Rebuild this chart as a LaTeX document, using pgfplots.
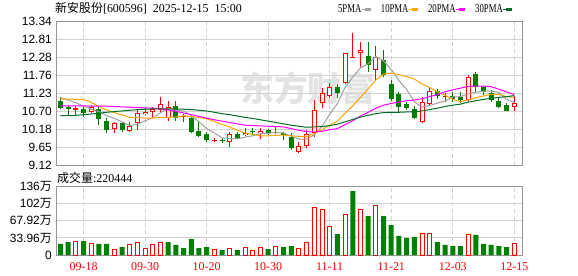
\documentclass[border=0pt]{standalone}
\usepackage{fontspec}
\setmainfont{Liberation Sans}
\newfontfamily\cjk{Noto Sans CJK SC}
\newfontfamily\serifn{Liberation Serif}
\newfontfamily\legfont[FakeStretch=0.73]{Liberation Serif}
\usepackage{pgfplots}
\usepackage{pgfplotstable}
\pgfplotsset{compat=1.18}
\definecolor{cred}{RGB}{255,0,0}
\definecolor{cgreen}{RGB}{0,128,0}
\definecolor{ma5c}{RGB}{160,160,160}
\definecolor{ma10c}{RGB}{255,165,0}
\definecolor{ma20c}{RGB}{255,0,255}
\definecolor{ma30c}{RGB}{0,110,40}
\definecolor{gridc}{RGB}{210,210,210}
\definecolor{framec}{RGB}{150,150,150}

\pgfplotstableread{
i o h l c
0 11.00 11.11 10.77 10.79
1 10.83 10.86 10.59 10.76
3 10.76 10.85 10.52 10.66
5 10.76 10.82 10.30 10.47
6 10.41 10.49 10.07 10.15
8 10.35 10.37 10.10 10.15
15 10.85 11.00 10.42 10.49
17 10.49 10.54 10.05 10.10
18 10.13 10.37 9.95 9.98
19 10.02 10.10 9.79 9.85
21 9.86 9.92 9.76 9.83
23 10.02 10.10 9.88 9.92
25 10.10 10.20 10.00 10.08
27 10.15 10.17 10.00 10.05
29 10.05 10.10 9.85 10.00
30 9.95 10.05 9.56 9.61
36 11.40 11.51 11.08 11.25
40 12.32 12.75 11.86 12.06
42 12.21 12.50 11.70 11.77
43 11.50 11.62 11.01 11.05
44 11.21 11.28 10.69 10.82
45 10.91 10.98 10.74 10.79
46 10.78 10.85 10.46 10.49
49 11.31 11.35 11.05 11.15
51 11.15 11.26 10.98 11.05
52 11.11 11.28 10.93 11.03
54 11.80 11.86 11.28 11.40
55 11.42 11.44 11.18 11.28
56 11.23 11.34 10.97 11.03
57 11.00 11.13 10.79 10.82
58 10.88 10.95 10.71 10.72
}\greenK

\pgfplotstableread{
i o h l c
4 10.69 10.88 10.64 10.82
7 10.17 10.39 10.07 10.35
9 10.13 10.39 10.10 10.28
10 10.35 10.74 10.15 10.66
11 10.61 10.79 10.59 10.68
12 10.67 10.82 10.49 10.77
13 10.74 11.12 10.69 10.90
14 10.49 11.00 10.42 10.83
22 9.79 10.10 9.66 10.02
24 10.00 10.22 9.97 10.07
26 10.05 10.20 9.88 10.12
31 9.51 9.80 9.46 9.68
32 9.68 10.15 9.61 10.02
33 10.05 11.03 9.95 10.74
34 10.93 11.37 10.79 11.23
35 11.15 11.52 11.10 11.40
37 11.52 12.42 11.50 12.40
39 12.40 12.75 12.01 12.50
41 11.91 12.62 11.62 12.29
47 10.39 11.11 10.36 10.96
48 10.91 11.40 10.86 11.29
53 11.03 11.77 10.98 11.70
59 10.82 11.15 10.71 10.93
}\redK

\pgfplotstableread{
i o h l c
2 10.75 10.85 10.59 10.76
16 10.52 10.61 10.37 10.54
20 9.83 9.90 9.79 9.84
28 10.05 10.25 10.02 10.07
38 12.27 12.99 12.27 12.28
50 11.12 11.25 10.98 11.13
}\dojiK

\pgfplotstableread{
i ma5 ma10 ma20 ma30
0 11.10 11.06 10.86 10.57
1 11.03 11.06 10.86 10.57
2 10.95 11.05 10.86 10.58
3 10.85 11.05 10.86 10.60
4 10.76 10.96 10.85 10.62
5 10.69 10.84 10.85 10.64
6 10.57 10.74 10.85 10.67
7 10.49 10.66 10.84 10.69
8 10.39 10.59 10.83 10.71
9 10.28 10.52 10.82 10.73
10 10.32 10.51 10.81 10.75
11 10.42 10.50 10.80 10.76
12 10.51 10.50 10.79 10.77
13 10.66 10.52 10.77 10.77
14 10.77 10.52 10.74 10.77
15 10.73 10.53 10.70 10.77
16 10.71 10.57 10.65 10.76
17 10.57 10.54 10.60 10.75
18 10.39 10.52 10.55 10.73
19 10.19 10.48 10.50 10.71
20 10.06 10.40 10.45 10.67
21 9.92 10.31 10.41 10.63
22 9.90 10.24 10.37 10.60
23 9.89 10.14 10.33 10.56
24 9.94 10.06 10.29 10.52
25 9.98 10.02 10.28 10.49
26 10.04 9.98 10.27 10.45
27 10.05 9.98 10.26 10.41
28 10.08 9.99 10.25 10.37
29 10.06 10.00 10.24 10.33
30 9.97 9.98 10.19 10.29
31 9.88 9.96 10.14 10.26
32 9.88 9.96 10.10 10.23
33 10.01 10.04 10.09 10.24
34 10.26 10.16 10.11 10.25
35 10.61 10.29 10.16 10.28
36 10.93 10.41 10.19 10.32
37 11.40 10.64 10.31 10.39
38 11.71 10.86 10.42 10.46
39 11.97 11.11 10.56 10.53
40 12.10 11.36 10.67 10.58
41 12.31 11.62 10.79 10.63
42 12.18 11.79 10.88 10.66
43 11.93 11.82 10.93 10.67
44 11.60 11.78 10.97 10.67
45 11.34 11.72 11.01 10.68
46 10.98 11.65 11.03 10.68
47 10.82 11.50 11.07 10.71
48 10.87 11.40 11.13 10.75
49 10.94 11.27 11.19 10.79
50 11.00 11.17 11.27 10.84
51 11.12 11.05 11.33 10.88
52 11.13 10.98 11.38 10.91
53 11.21 11.04 11.43 10.97
54 11.26 11.10 11.44 11.01
55 11.29 11.15 11.44 11.05
56 11.29 11.20 11.42 11.08
57 11.25 11.19 11.35 11.11
58 11.05 11.13 11.27 11.13
59 10.96 11.11 11.19 11.16
}\maT

\pgfplotstableread{
i v
0 21.9
1 25.8
3 27.8
5 21.9
6 21.9
8 15.9
14 25.8
15 19.9
16 13.9
17 31.8
18 13.9
19 15.9
21 9.9
23 9.9
27 11.9
29 15.9
30 17.9
36 41.7
38 127.2
40 77.5
42 77.5
43 59.6
44 37.8
45 33.8
46 35.8
49 25.8
50 19.9
51 17.9
52 17.9
54 39.8
55 21.9
56 19.9
57 17.9
58 15.9
}\volG

\pgfplotstableread{
i v
2 27.8
4 21.9
7 11.9
9 19.9
10 23.9
11 13.9
12 19.9
13 23.9
20 11.9
22 13.9
24 15.9
25 9.9
26 15.9
28 17.9
31 13.3
32 23.9
33 94.8
34 90.8
35 57.0
37 80.8
39 90.8
41 99.4
47 43.7
48 43.7
53 41.7
59 21.9
}\volR

\begin{document}
\begin{tikzpicture}
\useasboundingbox (0bp,0bp) rectangle (578bp,-276bp);
\node[anchor=base west, inner sep=0pt, text=black!11, font=\fontsize{34}{34}\selectfont\cjk\bfseries] at (240bp,-101bp) {东方财富};

\begin{axis}[
  at={(56bp,-165bp)}, anchor=south west, scale only axis,
  width=466bp, height=143.5bp,
  xmin=-0.585, xmax=60.0, ymin=9.12, ymax=13.34,
  axis line style={draw=framec, line width=1bp},
  xtick={3,11,19,27,35,43,51,59}, xticklabels={},
  ytick={9.12,9.6475,10.175,10.7025,11.23,11.7575,12.285,12.8125,13.34},
  yticklabels={9.12,9.65,10.18,10.70,11.23,11.76,12.28,12.81,13.34},
  major tick length=0pt, tick style={draw=none},
  yticklabel style={font=\fontsize{12}{12}\selectfont, anchor=east, inner sep=0pt, xshift=-4bp},
  xmajorgrids, ymajorgrids,
  x grid style={gridc, line width=1bp, dash pattern=on 4bp off 3bp},
  y grid style={gridc, line width=1bp},
  legend columns=4, legend plot pos=right,
  legend style={at={(0.605,1.084)}, anchor=west, draw=none, fill=none, inner sep=0pt,
    font=\fontsize{12}{12}\selectfont\legfont, nodes={inner sep=0pt},
    /tikz/every even column/.append style={column sep=10bp}},
  legend image code/.code={\path (0bp,0bp) -- (3bp,0bp); \fill (3.5bp,-1.3bp) rectangle (8.5bp,1.3bp);},
]
% green candles
\addplot[forget plot, draw=none, mark=none, error bars/.cd, y dir=plus, y explicit, error mark=none,
  error bar style={draw=cgreen, line width=1bp, solid}]
  table[x=i, y=l, y error plus expr={\thisrow{h}-\thisrow{l}}] {\greenK};
\addplot[forget plot, draw=none, mark=none, error bars/.cd, y dir=plus, y explicit, error mark=none,
  error bar style={draw=cgreen, line width=5bp, line cap=butt, solid}]
  table[x=i, y expr={min(\thisrow{o},\thisrow{c})}, y error plus expr={max(abs(\thisrow{o}-\thisrow{c}),0.035)}] {\greenK};
% red hollow candles
\addplot[forget plot, draw=none, mark=none, error bars/.cd, y dir=plus, y explicit, error mark=none,
  error bar style={draw=cred, line width=1bp, solid}]
  table[x=i, y=l, y error plus expr={\thisrow{h}-\thisrow{l}}] {\redK};
\addplot[forget plot, draw=none, mark=none, error bars/.cd, y dir=plus, y explicit, error mark=none,
  error bar style={draw=cred, line width=5bp, line cap=butt, solid}]
  table[x=i, y expr={min(\thisrow{o},\thisrow{c})}, y error plus expr={abs(\thisrow{o}-\thisrow{c})}] {\redK};
\addplot[forget plot, draw=none, mark=none, error bars/.cd, y dir=plus, y explicit, error mark=none,
  error bar style={draw=white, line width=3bp, line cap=butt, solid}]
  table[x=i, y expr={min(\thisrow{o},\thisrow{c})+0.03}, y error plus expr={abs(\thisrow{o}-\thisrow{c})-0.06}] {\redK};
% red doji
\addplot[forget plot, draw=none, mark=none, error bars/.cd, y dir=plus, y explicit, error mark=none,
  error bar style={draw=cred, line width=1bp, solid}]
  table[x=i, y=l, y error plus expr={\thisrow{h}-\thisrow{l}}] {\dojiK};
\addplot[forget plot, draw=none, mark=none, error bars/.cd, y dir=plus, y explicit, error mark=none,
  error bar style={draw=cred, line width=5bp, line cap=butt, solid}]
  table[x=i, y expr={min(\thisrow{o},\thisrow{c})}, y error plus expr={max(abs(\thisrow{o}-\thisrow{c}),0.035)}] {\dojiK};
% moving averages
\addplot[ma5c, line width=1bp, mark=none] table[x=i, y=ma5] {\maT};
\addlegendentry{5PMA}
\addplot[ma10c, line width=1bp, mark=none] table[x=i, y=ma10] {\maT};
\addlegendentry{10PMA}
\addplot[ma20c, line width=1bp, mark=none] table[x=i, y=ma20] {\maT};
\addlegendentry{20PMA}
\addplot[ma30c, line width=1bp, mark=none] table[x=i, y=ma30] {\maT};
\addlegendentry{30PMA}
\end{axis}

\begin{axis}[
  at={(56bp,-255bp)}, anchor=south west, scale only axis,
  width=466bp, height=68.3bp,
  xmin=-0.585, xmax=60.0, ymin=0, ymax=135.84,
  axis line style={draw=framec, line width=1bp},
  xtick={3,11,19,27,35,43,51,59},
  xticklabels={09-18,09-30,10-20,10-30,11-11,11-21,12-03,12-15},
  xticklabel style={font=\fontsize{12}{12}\selectfont\serifn, text=cred, inner sep=0pt, yshift=-7bp},
  ytick={0,33.96,67.92,101.88,135.84},
  yticklabels={0,{33.96\cjk 万},{67.92\cjk 万},{102\cjk 万},{136\cjk 万}},
  major tick length=0pt, tick style={draw=none},
  yticklabel style={font=\fontsize{12}{12}\selectfont, anchor=east, inner sep=0pt, xshift=-4bp},
  xmajorgrids, ymajorgrids,
  x grid style={gridc, line width=1bp, dash pattern=on 4bp off 3bp},
  y grid style={gridc, line width=1bp},
]
\addplot[ybar, bar width=5bp, bar shift=0pt, fill=cgreen, draw=none] table[x=i, y=v] {\volG};
\addplot[ybar, bar width=4bp, bar shift=0pt, fill=white, draw=cred, line width=1bp] table[x=i, y=v] {\volR};
\end{axis}

\node[anchor=base west, inner sep=0pt, font=\fontsize{12}{12}\selectfont] at (55bp,-12.5bp) {{\cjk 新安股份}\serifn[600596]\hspace{6bp}2025-12-15\hspace{6bp}15:00};
\node[anchor=base west, inner sep=0pt, font=\fontsize{12}{12}\selectfont] at (57bp,-182bp) {{\cjk 成交量}\serifn:220444};
\end{tikzpicture}
\end{document}
